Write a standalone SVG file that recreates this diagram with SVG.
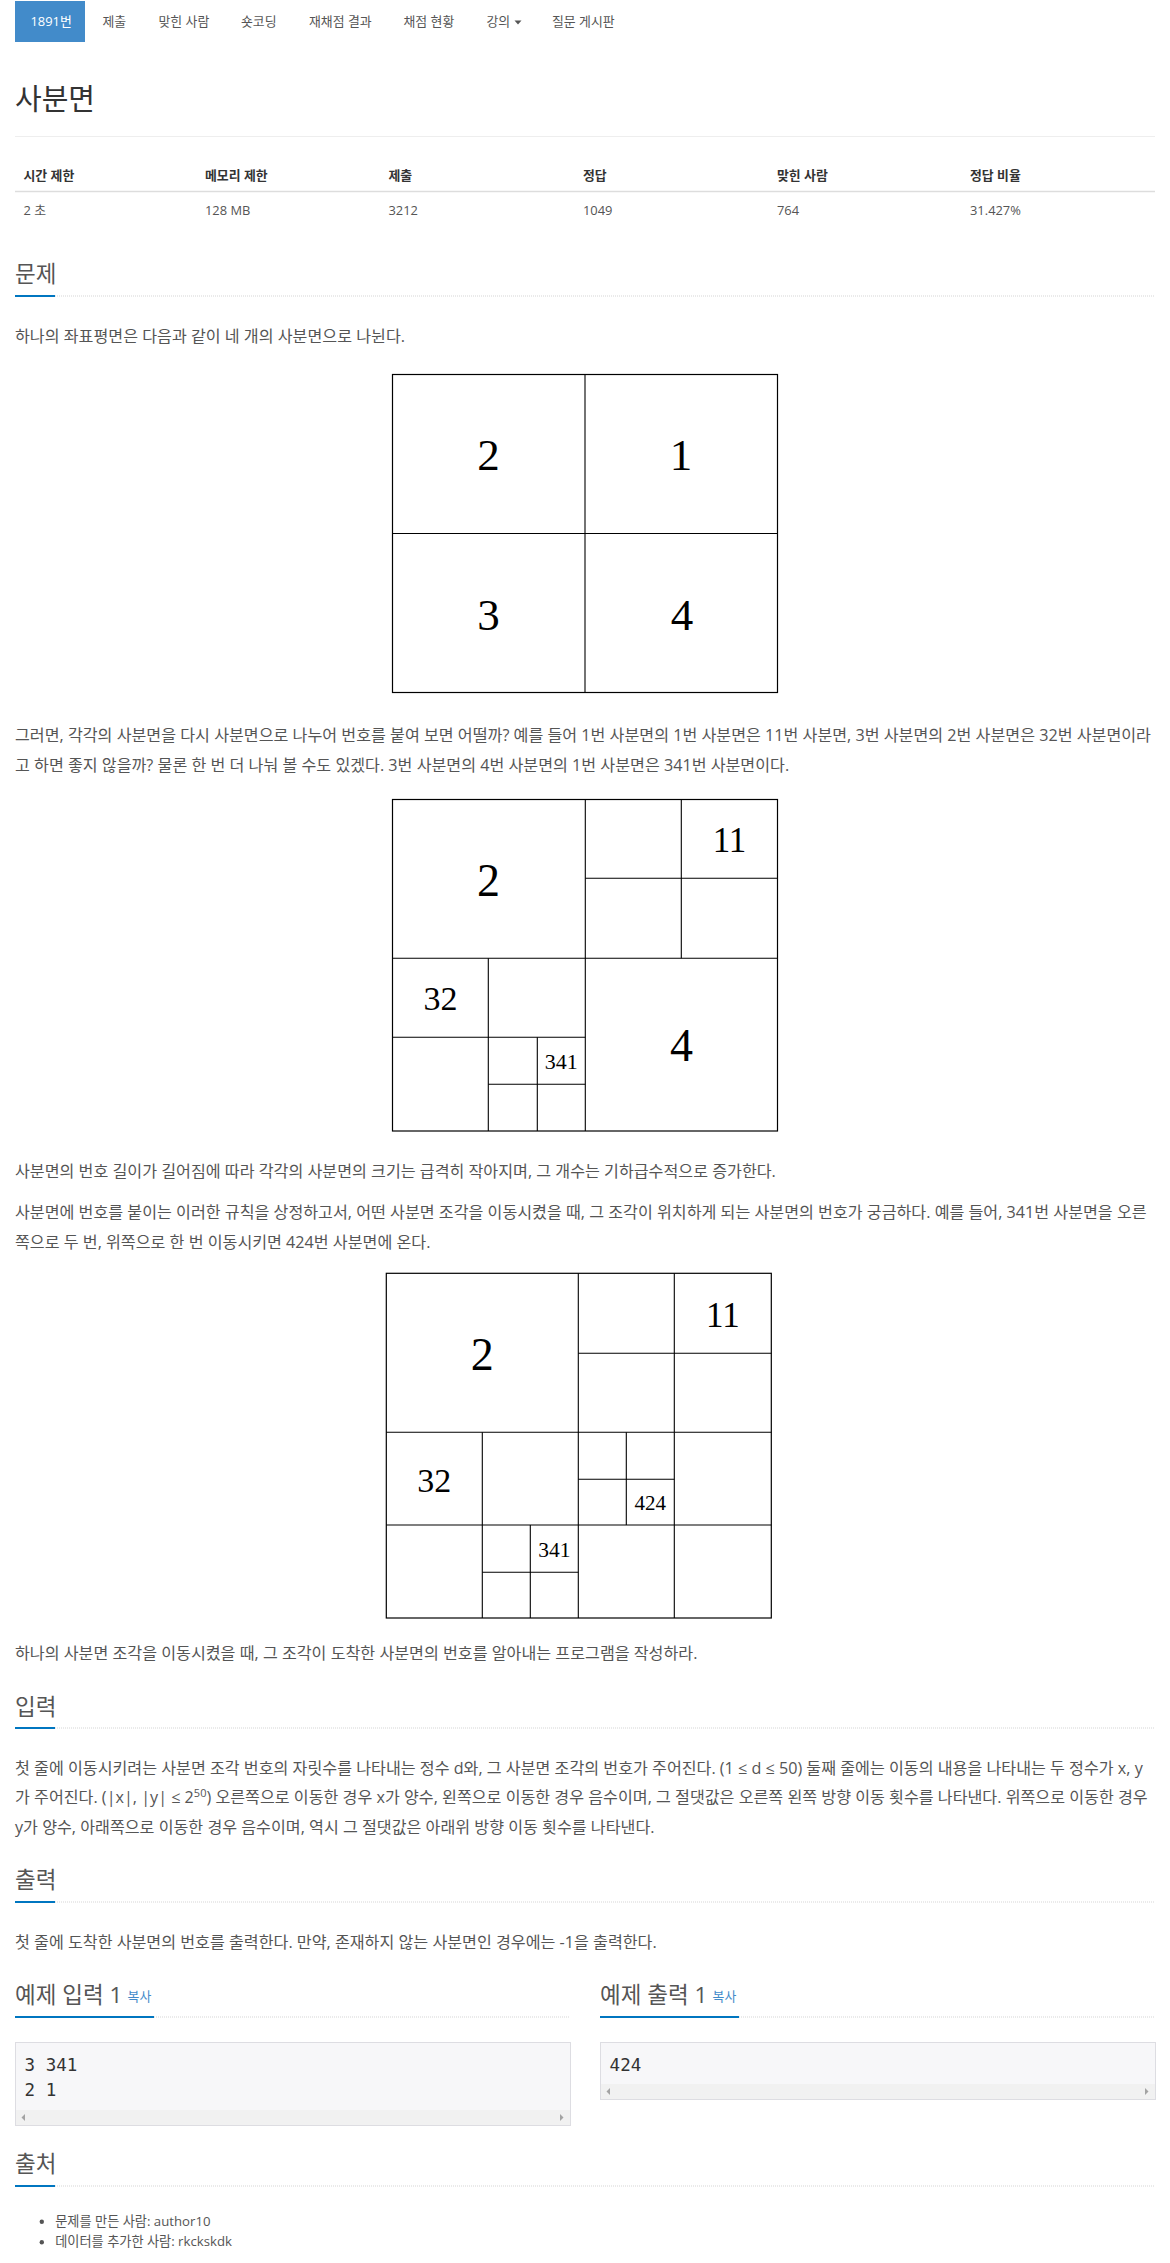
<svg xmlns="http://www.w3.org/2000/svg" width="1170" height="2263" viewBox="0 0 1170 2263">
<style>
text{font-family:"Open Sans","Noto Sans CJK KR",sans-serif;}
.nav{font-size:12.9px;fill:#555;}
.title{font-size:29px;fill:#333;}
.th{font-size:12.9px;font-weight:bold;fill:#333;}
.td{font-size:12.9px;fill:#555;}
.h{font-size:22.5px;fill:#555;}
.p{font-size:16.15px;fill:#555;}
.li{font-size:13.2px;fill:#555;}
.copy{font-size:12.9px;fill:#428bca;}
.mono{font-family:"DejaVu Sans Mono",monospace;font-size:17.5px;fill:#333;}
.fig{font-family:"Liberation Serif","DejaVu Serif",serif;fill:#000;text-anchor:middle;}
.bar{fill:#0076c0;}
.dot{stroke:#d5d5d5;stroke-width:1;stroke-dasharray:1 1;fill:none;}
.box{fill:none;stroke:#000;stroke-width:1.2;}
.ln{stroke:#000;stroke-width:1.1;fill:none;}
.pre{fill:#f7f7f9;stroke:#dddde2;stroke-width:1;}
.sb{fill:#f1f1f1;}
.arr{fill:#a3a3a3;}
</style>
<rect x="0" y="0" width="1170" height="2263" fill="#fff"/>

<g id="nav">
<rect x="15" y="1" width="70" height="41" fill="#428bca"/>
<text class="nav" x="30.5" y="26" style="fill:#fff">1891번</text>
<text class="nav" x="102.5" y="26">제출</text>
<text class="nav" x="158.5" y="26">맞힌 사람</text>
<text class="nav" x="241" y="26">숏코딩</text>
<text class="nav" x="309" y="26">재채점 결과</text>
<text class="nav" x="403.5" y="26">채점 현황</text>
<text class="nav" x="486.5" y="26">강의</text>
<polygon points="514.5,20.5 521.5,20.5 518,24.5" fill="#555"/>
<text class="nav" x="552" y="26">질문 게시판</text>
</g>

<g id="title">
<text class="title" x="15" y="110">사분면</text>
<line x1="15" y1="136.5" x2="1155" y2="136.5" stroke="#eee" stroke-width="1"/>
</g>

<g id="info-table">
<text class="th" x="23.5" y="180">시간 제한</text>
<text class="th" x="205" y="180">메모리 제한</text>
<text class="th" x="388.5" y="180">제출</text>
<text class="th" x="583" y="180">정답</text>
<text class="th" x="777" y="180">맞힌 사람</text>
<text class="th" x="970" y="180">정답 비율</text>
<line x1="15" y1="191.5" x2="1155" y2="191.5" stroke="#ddd" stroke-width="1.5"/>
<text class="td" x="23.5" y="215">2 초</text>
<text class="td" x="205" y="215">128 MB</text>
<text class="td" x="388.5" y="215">3212</text>
<text class="td" x="583" y="215">1049</text>
<text class="td" x="777" y="215">764</text>
<text class="td" x="970" y="215">31.427%</text>
</g>

<g id="sec-problem">
<text class="h" x="15" y="282">문제</text>
<rect class="bar" x="15" y="295" width="40" height="2"/>
<line class="dot" x1="55" y1="296" x2="1155" y2="296"/>
<text class="p" x="15" y="342">하나의 좌표평면은 다음과 같이 네 개의 사분면으로 나뉜다.</text>
</g>

<g id="figure1">
<rect class="box" x="392.5" y="374.5" width="385" height="318"/>
<line class="ln" x1="585" y1="374.5" x2="585" y2="692.5"/>
<line class="ln" x1="392.5" y1="533.5" x2="777.5" y2="533.5"/>
<text class="fig" x="488.5" y="470" font-size="45">2</text>
<text class="fig" x="681" y="470" font-size="45">1</text>
<text class="fig" x="488.5" y="630" font-size="45">3</text>
<text class="fig" x="682" y="630" font-size="45">4</text>
</g>

<g id="para2">
<text class="p" x="15" y="741">그러면, 각각의 사분면을 다시 사분면으로 나누어 번호를 붙여 보면 어떨까? 예를 들어 1번 사분면의 1번 사분면은 11번 사분면, 3번 사분면의 2번 사분면은 32번 사분면이라</text>
<text class="p" x="15" y="770.7">고 하면 좋지 않을까? 물론 한 번 더 나눠 볼 수도 있겠다. 3번 사분면의 4번 사분면의 1번 사분면은 341번 사분면이다.</text>
</g>

<g id="figure2">
<rect class="box" x="392.5" y="799.5" width="385" height="331.5"/>
<line class="ln" x1="585.3" y1="799.5" x2="585.3" y2="1131"/>
<line class="ln" x1="392.5" y1="958.3" x2="777.5" y2="958.3"/>
<line class="ln" x1="681.3" y1="799.5" x2="681.3" y2="958.3"/>
<line class="ln" x1="585.3" y1="878.3" x2="777.5" y2="878.3"/>
<line class="ln" x1="488.3" y1="958.3" x2="488.3" y2="1131"/>
<line class="ln" x1="392.5" y1="1037.3" x2="585.3" y2="1037.3"/>
<line class="ln" x1="537.3" y1="1037.3" x2="537.3" y2="1131"/>
<line class="ln" x1="488.3" y1="1084.3" x2="585.3" y2="1084.3"/>
<text class="fig" x="488.5" y="896" font-size="46">2</text>
<text class="fig" x="729.5" y="852" font-size="35">11</text>
<text class="fig" x="440.5" y="1010" font-size="34">32</text>
<text class="fig" x="561.3" y="1069" font-size="22">341</text>
<text class="fig" x="681.5" y="1061" font-size="46">4</text>
</g>

<g id="para3">
<text class="p" x="15" y="1177.4">사분면의 번호 길이가 길어짐에 따라 각각의 사분면의 크기는 급격히 작아지며, 그 개수는 기하급수적으로 증가한다.</text>
<text class="p" x="15" y="1218.2">사분면에 번호를 붙이는 이러한 규칙을 상정하고서, 어떤 사분면 조각을 이동시켰을 때, 그 조각이 위치하게 되는 사분면의 번호가 궁금하다. 예를 들어, 341번 사분면을 오른</text>
<text class="p" x="15" y="1247.6">쪽으로 두 번, 위쪽으로 한 번 이동시키면 424번 사분면에 온다.</text>
</g>

<g id="figure3">
<rect class="box" x="386.3" y="1273.3" width="385" height="344.7"/>
<line class="ln" x1="578.3" y1="1273.3" x2="578.3" y2="1618"/>
<line class="ln" x1="386.3" y1="1432.3" x2="771.3" y2="1432.3"/>
<line class="ln" x1="674.3" y1="1273.3" x2="674.3" y2="1432.3"/>
<line class="ln" x1="578.3" y1="1353.3" x2="771.3" y2="1353.3"/>
<line class="ln" x1="386.3" y1="1525" x2="771.3" y2="1525"/>
<line class="ln" x1="482.3" y1="1432.3" x2="482.3" y2="1618"/>
<line class="ln" x1="674.3" y1="1432.3" x2="674.3" y2="1618"/>
<line class="ln" x1="626.3" y1="1432.3" x2="626.3" y2="1525"/>
<line class="ln" x1="578.3" y1="1479.3" x2="674.3" y2="1479.3"/>
<line class="ln" x1="530.3" y1="1525" x2="530.3" y2="1618"/>
<line class="ln" x1="482.3" y1="1572.3" x2="578.3" y2="1572.3"/>
<text class="fig" x="482.3" y="1370" font-size="46">2</text>
<text class="fig" x="722.8" y="1327" font-size="35">11</text>
<text class="fig" x="434.3" y="1492" font-size="34">32</text>
<text class="fig" x="650.3" y="1510" font-size="21">424</text>
<text class="fig" x="554.3" y="1557" font-size="21.5">341</text>
</g>

<g id="para5">
<text class="p" x="15" y="1658.5">하나의 사분면 조각을 이동시켰을 때, 그 조각이 도착한 사분면의 번호를 알아내는 프로그램을 작성하라.</text>
</g>

<g id="sec-input">
<text class="h" x="15" y="1714.5">입력</text>
<rect class="bar" x="15" y="1727" width="40" height="2"/>
<line class="dot" x1="55" y1="1728" x2="1155" y2="1728"/>
<text class="p" x="15" y="1773.5">첫 줄에 이동시키려는 사분면 조각 번호의 자릿수를 나타내는 정수 d와, 그 사분면 조각의 번호가 주어진다. (1 ≤ d ≤ 50) 둘째 줄에는 이동의 내용을 나타내는 두 정수가 x, y</text>
<text class="p" x="15" y="1803.3">가 주어진다. (|x|, |y| ≤ 2<tspan font-size="11" dy="-6">50</tspan><tspan dy="6">) 오른쪽으로 이동한 경우 x가 양수, 왼쪽으로 이동한 경우 음수이며, 그 절댓값은 오른쪽 왼쪽 방향 이동 횟수를 나타낸다. 위쪽으로 이동한 경우</tspan></text>
<text class="p" x="15" y="1833">y가 양수, 아래쪽으로 이동한 경우 음수이며, 역시 그 절댓값은 아래위 방향 이동 횟수를 나타낸다.</text>
</g>

<g id="sec-output">
<text class="h" x="15" y="1888">출력</text>
<rect class="bar" x="15" y="1901" width="40" height="2"/>
<line class="dot" x1="55" y1="1902" x2="1155" y2="1902"/>
<text class="p" x="15" y="1947.5">첫 줄에 도착한 사분면의 번호를 출력한다. 만약, 존재하지 않는 사분면인 경우에는 -1을 출력한다.</text>
</g>

<g id="sample-input">
<text class="h" x="15" y="2003">예제 입력 1</text>
<text class="copy" x="127.6" y="2001">복사</text>
<rect class="bar" x="15" y="2016" width="139" height="2"/>
<line class="dot" x1="154" y1="2017" x2="570" y2="2017"/>
<rect class="pre" x="15.5" y="2042.5" width="555" height="83"/>
<rect class="sb" x="16" y="2110" width="554" height="15"/>
<polygon class="arr" points="21.5,2117.5 25,2114 25,2121"/>
<polygon class="arr" points="563.5,2117.5 560,2114 560,2121"/>
<text class="mono" x="24.6" y="2070.5">3 341</text>
<text class="mono" x="24.6" y="2095.5">2 1</text>
</g>

<g id="sample-output">
<text class="h" x="600" y="2003">예제 출력 1</text>
<text class="copy" x="712.6" y="2001">복사</text>
<rect class="bar" x="600" y="2016" width="139" height="2"/>
<line class="dot" x1="739" y1="2017" x2="1155" y2="2017"/>
<rect class="pre" x="600.5" y="2042.5" width="555" height="57"/>
<rect class="sb" x="601" y="2084" width="554" height="15"/>
<polygon class="arr" points="606.5,2091.5 610,2088 610,2095"/>
<polygon class="arr" points="1148.5,2091.5 1145,2088 1145,2095"/>
<text class="mono" x="609.6" y="2070.5">424</text>
</g>

<g id="sec-source">
<text class="h" x="15" y="2172">출처</text>
<rect class="bar" x="15" y="2185" width="40" height="2"/>
<line class="dot" x1="55" y1="2186" x2="1155" y2="2186"/>
<circle cx="41.8" cy="2221.7" r="2.2" fill="#555"/>
<text class="li" x="55.2" y="2225.8">문제를 만든 사람: author10</text>
<circle cx="41.8" cy="2242.3" r="2.2" fill="#555"/>
<text class="li" x="55.2" y="2246.4">데이터를 추가한 사람: rkckskdk</text>
</g>
</svg>
